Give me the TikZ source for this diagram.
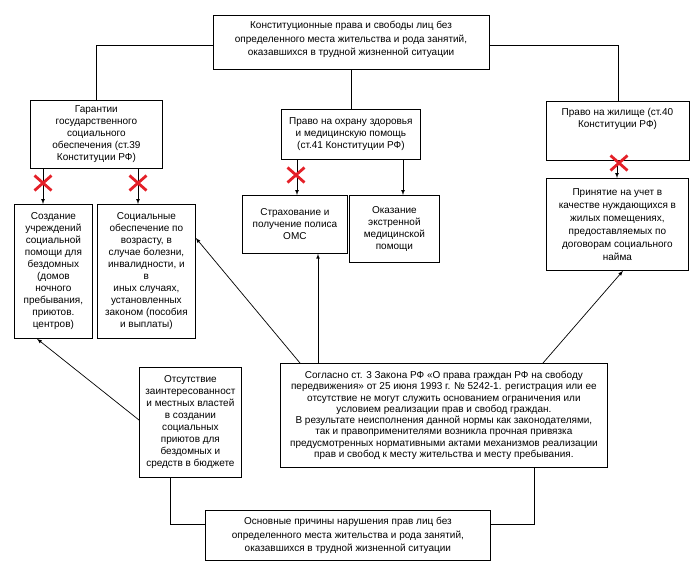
\documentclass[tikz,border=0pt]{standalone}
\usepackage{fontspec}
\setmainfont{Liberation Sans}
\definecolor{crossred}{RGB}{228,32,40}
\tikzset{
  box/.style={draw, line width=0.8pt, align=center, inner sep=2pt, anchor=north west,
    font=\fontsize{10}{12}\selectfont},
  line/.style={line width=0.7pt},
  arr/.style={-latex, line width=0.7pt},
  nocross/.pic={\draw[crossred, line width=2.8pt] (-8.5,-7.5) -- (8.5,7.5) (-8.5,7.5) -- (8.5,-7.5);}
}
\begin{document}
\begin{tikzpicture}[x=1pt,y=-1pt]
\useasboundingbox (0,0) rectangle (699,574);
%\draw [help lines, color=lightgray] (0,0) grid[step=50] (699,574);
\node [box, anchor=north, minimum width=276pt, inner ysep=6pt, text depth=8pt,
  font=\fontsize{10}{13.5}\selectfont] (con) at (351,15)
  {Конституционные права и свободы лиц без\\ определенного места жительства и рода занятий,\\ оказавшихся в трудной жизненной ситуации};
\node [box, minimum width=132pt, minimum height=68pt] (gar) at (30,100)
  {Гарантии\\ государственного\\ социального\\ обеспечения (ст.39\\ Конституции РФ)};
\node [box, minimum width=139pt, minimum height=50pt] (health) at (281,109)
  {Право на охрану здоровья\\ и медицинскую помощь\\ (ст.41 Конституции РФ)};
\node [box, anchor=north, minimum width=143pt, inner ysep=7pt, text depth=26pt] (house) at (617.5,101)
  {Право на жилище (ст.40\\ Конституции РФ)};
\node [box, minimum width=78pt, minimum height=134pt] (create) at (14,204)
  {Создание\\ учреждений\\ социальной\\ помощи для\\ бездомных\\ (домов\\ ночного\\ пребывания,\\ приютов.\\ центров)};
\node [box, minimum width=98pt, minimum height=134pt] (social) at (97,204)
  {Социальные\\ обеспечение по\\ возрасту, в\\ случае болезни,\\ инвалидности, и\\ в\\ иных случаях,\\ установленных\\ законом (пособия\\ и выплаты)};
\node [box, minimum width=105pt, minimum height=58pt] (insur) at (242,195)
  {Страхование и\\ получение полиса\\ ОМС};
\node [box, minimum width=90pt, minimum height=67pt] (emerg) at (349,195)
  {Оказание\\ экстренной\\ медицинской\\ помощи};
\node [box, minimum width=142pt, minimum height=92pt, font=\fontsize{10}{13}\selectfont] (accept) at (546,178)
  {Принятие на учет в\\ качестве нуждающихся в\\ жилых помещениях,\\ предоставляемых по\\ договорам социального\\ найма};
\node [box, minimum width=102pt, minimum height=110pt] (lack) at (139,367)
  {Отсутствие\\ заинтересованност\\ и местных властей\\ в создании\\ социальных\\ приютов для\\ бездомных и\\ средств в бюджете};
\node [box, minimum width=327pt, minimum height=104pt, font=\fontsize{10}{11.3}\selectfont] (law) at (280,363)
  {Согласно ст. 3 Закона РФ «О права граждан РФ на свободу\\ передвижения» от 25 июня 1993 г. № 5242-1. регистрация или ее\\ отсутствие не могут служить основанием ограничения или\\ условием реализации прав и свобод граждан.\\ В результате неисполнения данной нормы как законодателями,\\ так и правоприменителями возникла прочная привязка\\ предусмотренных нормативными актами механизмов реализации\\ прав и свобод к месту жительства и месту пребывания.};
\node [box, minimum width=285pt, minimum height=50pt, font=\fontsize{10}{13.5}\selectfont] (cause) at (205,510)
  {Основные причины нарушения прав лиц без\\ определенного места жительства и рода занятий,\\ оказавшихся в трудной жизненной ситуации};

% top level
\draw [line] (con.west |- 0,45) -| (gar.north -| 96,0);
\draw [line] (con.east |- 0,45) -| (house.north -| 618,0);
\draw [line] (con.south) -- (con.south |- health.north);

% second level
\draw [arr] (gar.south -| 43,0) -- (create.north -| 43,0);
\draw [arr] (gar.south -| 138,0) -- (social.north -| 138,0);
\draw [arr] (health.south -| 297,0) -- (insur.north -| 297,0);
\draw [arr] (health.south -| 403,0) -- (emerg.north -| 403,0);
\draw [arr] (house.south -| 617,0) -- (accept.north -| 617,0);
\pic at (43,183) {nocross};
\pic at (138,183) {nocross};
\pic at (296,175) {nocross};
\pic at (619,163) {nocross};

% causes
\draw [line] (cause.west |- 0,524) -| (lack.south -| 170,0);
\draw [line] (cause.east |- 0,524) -| (law.south -| 534,0);
\draw [arr] (lack.west |- 0,420) -- (create.south -| 37,0);
\draw [arr] (law.north -| 300,0) -- (social.east |- 0,238);
\draw [arr] (law.north -| 318,0) -- (insur.south -| 318,0);
\draw [arr] (law.north -| 543,0) -- (accept.south -| 623,0);

\end{tikzpicture}
\end{document}
